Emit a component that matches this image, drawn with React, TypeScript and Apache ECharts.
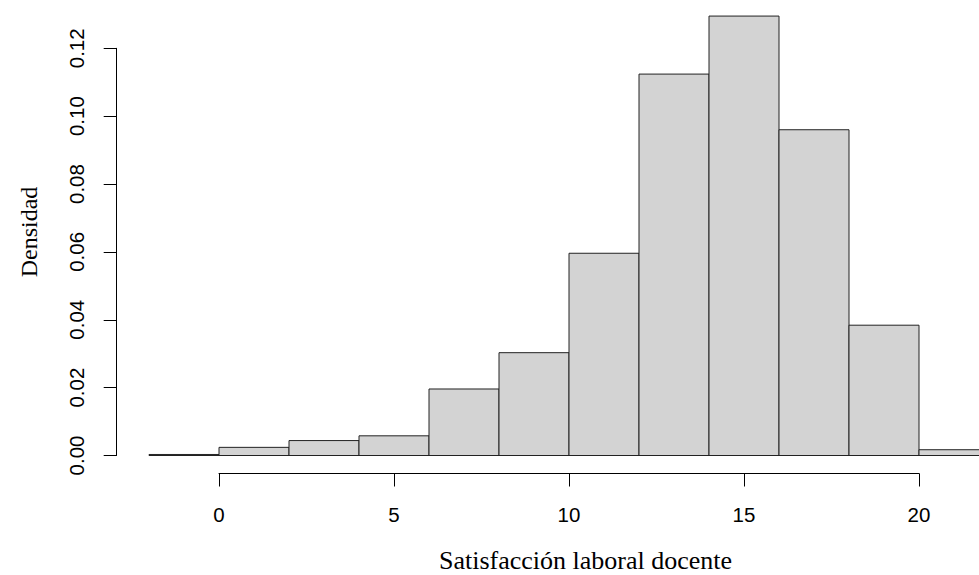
import React, { useEffect, useRef } from "react";
import * as echarts from "echarts";

// Histogram bins (breaks every 2 units) and densities
const binStarts = [-2, 0, 2, 4, 6, 8, 10, 12, 14, 16, 18, 20];
const binEnds = [0, 2, 4, 6, 8, 10, 12, 14, 16, 18, 20, 22];
const densities = [0.0003, 0.0024, 0.0044, 0.0058, 0.0196, 0.0303, 0.0596, 0.1124, 0.1295, 0.096, 0.0384, 0.0017];

const xTicks = [0, 5, 10, 15, 20];
const yTicks = [0, 0.02, 0.04, 0.06, 0.08, 0.1, 0.12];

const xTitle = "Satisfacción laboral docente";
const yTitle = "Densidad";

export default function App() {
  const ref = useRef<HTMLDivElement>(null);

  useEffect(() => {
    if (!ref.current) return;
    const chart = echarts.init(ref.current, null, { renderer: "svg" });
    const data = binStarts.map((s, i) => [s, binEnds[i], densities[i]]);
    chart.setOption({
      animation: false,
      backgroundColor: "#ffffff",
      grid: { left: 219, right: 60, top: 48.3, bottom: 119.5 },
      xAxis: {
        type: "value",
        min: xTicks[0],
        max: xTicks[xTicks.length - 1],
        interval: 5,
        offset: 18,
        splitLine: { show: false },
        axisLine: { show: true, onZero: false, lineStyle: { color: "#000", width: 1 } },
        axisTick: { show: true, length: 13, lineStyle: { color: "#000", width: 1 } },
        axisLabel: {
          margin: 30,
          color: "#000",
          fontFamily: "Liberation Sans, Arial, sans-serif",
          fontSize: 20.5,
        },
      },
      yAxis: {
        type: "value",
        min: yTicks[0],
        max: yTicks[yTicks.length - 1],
        interval: 0.02,
        offset: 102.3,
        splitLine: { show: false },
        axisLine: { show: true, onZero: false, lineStyle: { color: "#000", width: 1 } },
        axisTick: { show: true, length: 13, lineStyle: { color: "#000", width: 1 } },
        axisLabel: {
          margin: 30,
          rotate: 90,
          color: "#000",
          fontFamily: "Liberation Sans, Arial, sans-serif",
          fontSize: 20.5,
          formatter: (v: number) => v.toFixed(2),
        },
      },
      graphic: [
        {
          type: "text",
          x: 585.5,
          y: 560,
          style: {
            text: xTitle,
            fontFamily: "Liberation Serif, Times New Roman, serif",
            fontSize: 26,
            lineHeight: 26,
            fill: "#000",
            align: "center",
            verticalAlign: "middle",
          },
        },
        {
          type: "text",
          x: 29,
          y: 232,
          rotation: Math.PI / 2,
          style: {
            text: yTitle,
            fontFamily: "Liberation Serif, Times New Roman, serif",
            fontSize: 24,
            fill: "#000",
            align: "center",
            verticalAlign: "middle",
          },
        },
      ],
      series: [
        {
          type: "custom",
          clip: false,
          data,
          encode: { x: [0, 1], y: 2 },
          renderItem: (params: any, api: any) => {
            const p0 = api.coord([api.value(0), api.value(2)]);
            const p1 = api.coord([api.value(1), 0]);
            return {
              type: "rect",
              shape: { x: p0[0], y: p0[1], width: p1[0] - p0[0], height: p1[1] - p0[1] },
              style: { fill: "#d3d3d3", stroke: "#222", lineWidth: 1 },
            };
          },
        },
      ],
    });
    return () => chart.dispose();
  }, []);

  return <div ref={ref} style={{ width: 979, height: 575, position: "absolute", left: 0, top: 0 }} />;
}
